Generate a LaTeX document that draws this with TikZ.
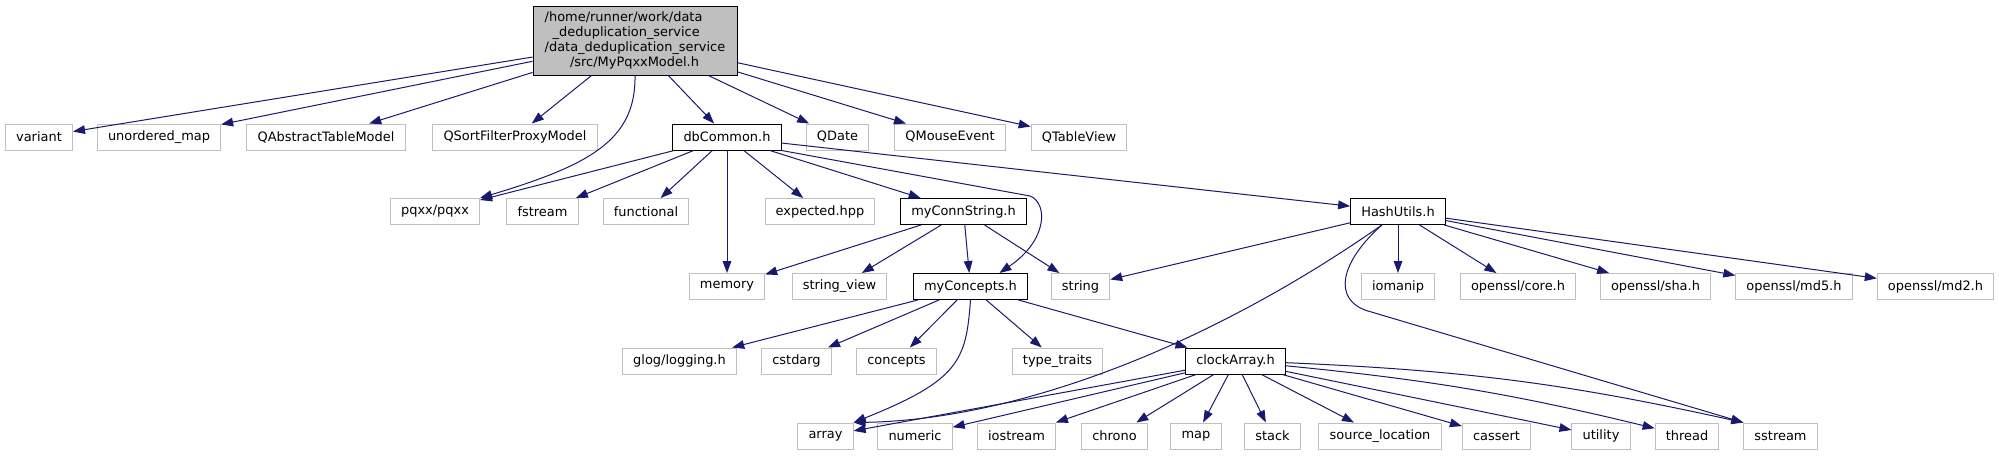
\documentclass[tikz,border=0pt]{standalone}
\usepackage{fontspec}
\setmainfont{DejaVu Sans}
\usetikzlibrary{arrows.meta}
\definecolor{edgeblue}{RGB}{25,25,112}
\definecolor{boxgray}{RGB}{191,191,191}

\begin{document}
\begin{tikzpicture}[x=.75pt,y=-.75pt,>={Triangle[length=9pt,width=6.5pt]},
  every node/.style={font=\fontsize{9.7}{11.25}\selectfont,inner xsep=8pt,inner ysep=0pt,minimum height=19.5pt,line width=.75pt},
  ext/.style={draw=boxgray},
  doc/.style={draw=black},
  dep/.style={edgeblue,line width=.75pt,->}]
\path[use as bounding box,fill=white] (0,0) rectangle (1999,455);
% root file
\node[doc,fill=boxgray,align=left,minimum width=153pt,minimum height=51.75pt] (root) at (635,40.5)
  {/home/runner/work/data\\\hspace*{6pt}\_deduplication\_service\\/data\_deduplication\_service\\\hspace*{19pt}/src/MyPqxxModel.h};
% rank 1
\foreach \n/\x/\t in {variant/39/variant,unorderedmap/159/unordered\_map,qabstract/326/QAbstractTableModel,
  qsortfilter/515/QSortFilterProxyModel,qdate/837.5/QDate,qmouse/950/QMouseEvent,qtableview/1079/QTableView}
  \node[ext] (\n) at (\x,137) {\t};
\node[doc] (dbcommon) at (727,137) {dbCommon.h};
% rank 2
\foreach \n/\x/\t in {pqxx/435/{pqxx/pqxx},fstream/542.5/fstream,functional/646/functional,expected/820/expected.hpp}
  \node[ext] (\n) at (\x,211.5) {\t};
\node[doc] (connstring) at (963.5,211.5) {myConnString.h};
\node[doc] (hashutils) at (1398,211.5) {HashUtils.h};
% rank 3
\foreach \n/\x/\t in {memory/727/memory,stringview/839.5/string\_view,stdstring/1080.5/string,iomanip/1398/iomanip,
  sslcore/1518/{openssl/core.h},sslsha/1655.5/{openssl/sha.h},sslmd5/1794/{openssl/md5.h},sslmd2/1935.5/{openssl/md2.h}}
  \node[ext] (\n) at (\x,286.5) {\t};
\node[doc] (myconcepts) at (970.5,286.5) {myConcepts.h};
% rank 4
\foreach \n/\x/\t in {glog/679.5/{glog/logging.h},cstdarg/796.5/cstdarg,conceptsh/896.5/concepts,typetraits/1057.5/type\_traits}
  \node[ext] (\n) at (\x,361) {\t};
\node[doc] (clockarray) at (1235.5,361) {clockArray.h};
% rank 5
\foreach \n/\x/\t in {array/825.5/array,numeric/915/numeric,iostream/1016.5/iostream,chrono/1114.5/chrono,map/1196/map,
  stack/1272.5/stack,srcloc/1380/source\_location,cassert/1496.5/cassert,utility/1601/utility,thread/1687/thread,sstream/1780.5/sstream}
  \node[ext] (\n) at (\x,436) {\t};
% includes
\foreach \t in {variant,unorderedmap,qabstract,qsortfilter,dbcommon,qdate,qmouse,qtableview} \draw[dep] (root) -- (\t);
\draw[dep] (root.south) .. controls (636,140) and (590,165) .. (pqxx.north east);
\foreach \t in {pqxx,fstream,functional,memory,expected,connstring,hashutils} \draw[dep] (dbcommon) -- (\t);
\draw[dep] (dbcommon.south east) -- (1030,196) .. controls (1048,203) and (1048,240) .. (myconcepts.25);
\foreach \t in {memory,stringview,myconcepts,stdstring} \draw[dep] (connstring) -- (\t);
\foreach \t in {stdstring,iomanip,sslcore,sslsha,sslmd5,sslmd2} \draw[dep] (hashutils) -- (\t);
\draw[dep] (hashutils.-140) .. controls (1200,352) and (1010,420) .. (array.north east);
\draw[dep] (hashutils.-140) .. controls (1340,262) and (1332,300) .. (1368,311) -- (sstream.north west);
\foreach \t in {glog,cstdarg,conceptsh,typetraits,clockarray} \draw[dep] (myconcepts) -- (\t);
\draw[dep] (myconcepts.south) .. controls (966,360) and (960,380) .. (array.north east);
\foreach \t in {array,numeric,iostream,chrono,map,stack,srcloc,cassert,utility} \draw[dep] (clockarray) -- (\t);
\draw[dep] (clockarray) to[bend left=4] (thread);
\draw[dep] (clockarray) to[bend left=5] (sstream.north west);
\end{tikzpicture}
\end{document}
